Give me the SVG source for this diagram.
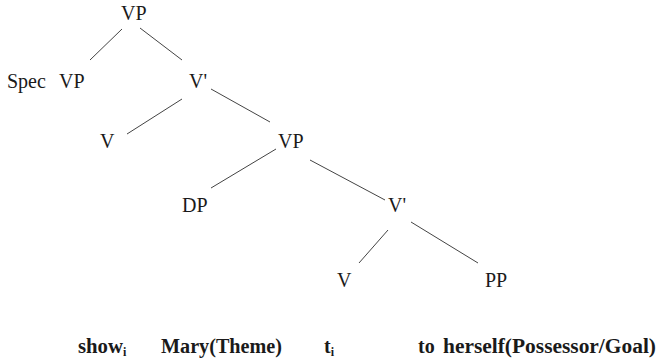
<svg xmlns="http://www.w3.org/2000/svg" width="658" height="364" viewBox="0 0 658 364">
<style>
text{font-family:'Liberation Serif','DejaVu Serif',serif;fill:#1a1a1a}
.n{font-size:20px}
.b{font-size:20px;font-weight:bold}
.s{font-size:12px}
.e line{stroke:#444;stroke-width:1}
</style>
<rect width="658" height="364" fill="#fff"/>
<g id="connectors" class="e">
<line x1="122" y1="29" x2="90" y2="60"/>
<line x1="140" y1="28" x2="182" y2="60"/>
<line x1="182" y1="99" x2="127" y2="134"/>
<line x1="211" y1="89" x2="270" y2="122"/>
<line x1="276" y1="149" x2="211" y2="188"/>
<line x1="310" y1="160" x2="385" y2="200"/>
<line x1="388" y1="230" x2="359" y2="263"/>
<line x1="411" y1="222" x2="478" y2="263"/>
</g>
<g id="vp1"><text class="n" x="121" y="20">VP</text></g>
<g id="specvp"><text class="n" x="7" y="88">Spec</text><text class="n" x="59" y="88">VP</text></g>
<g id="vbar1"><text class="n" x="189" y="88">V'</text></g>
<g id="v1"><text class="n" x="100" y="148">V</text></g>
<g id="vp2"><text class="n" x="278" y="148">VP</text></g>
<g id="dp"><text class="n" x="182" y="212">DP</text></g>
<g id="vbar2"><text class="n" x="388" y="212">V'</text></g>
<g id="v2"><text class="n" x="337" y="287">V</text></g>
<g id="pp"><text class="n" x="485" y="287">PP</text></g>
<g id="words">
<text class="b" x="78" y="353"><tspan textLength="45" lengthAdjust="spacingAndGlyphs">show</tspan><tspan class="s" dy="3">i</tspan></text>
<text class="b" x="161" y="353" textLength="121" lengthAdjust="spacingAndGlyphs">Mary(Theme)</text>
<text class="b" x="324" y="353">t<tspan class="s" dy="3">i</tspan></text>
<text class="b" x="418" y="353">to</text>
<text class="b" x="443" y="353" textLength="213" lengthAdjust="spacingAndGlyphs">herself(Possessor/Goal)</text>
</g>
</svg>
